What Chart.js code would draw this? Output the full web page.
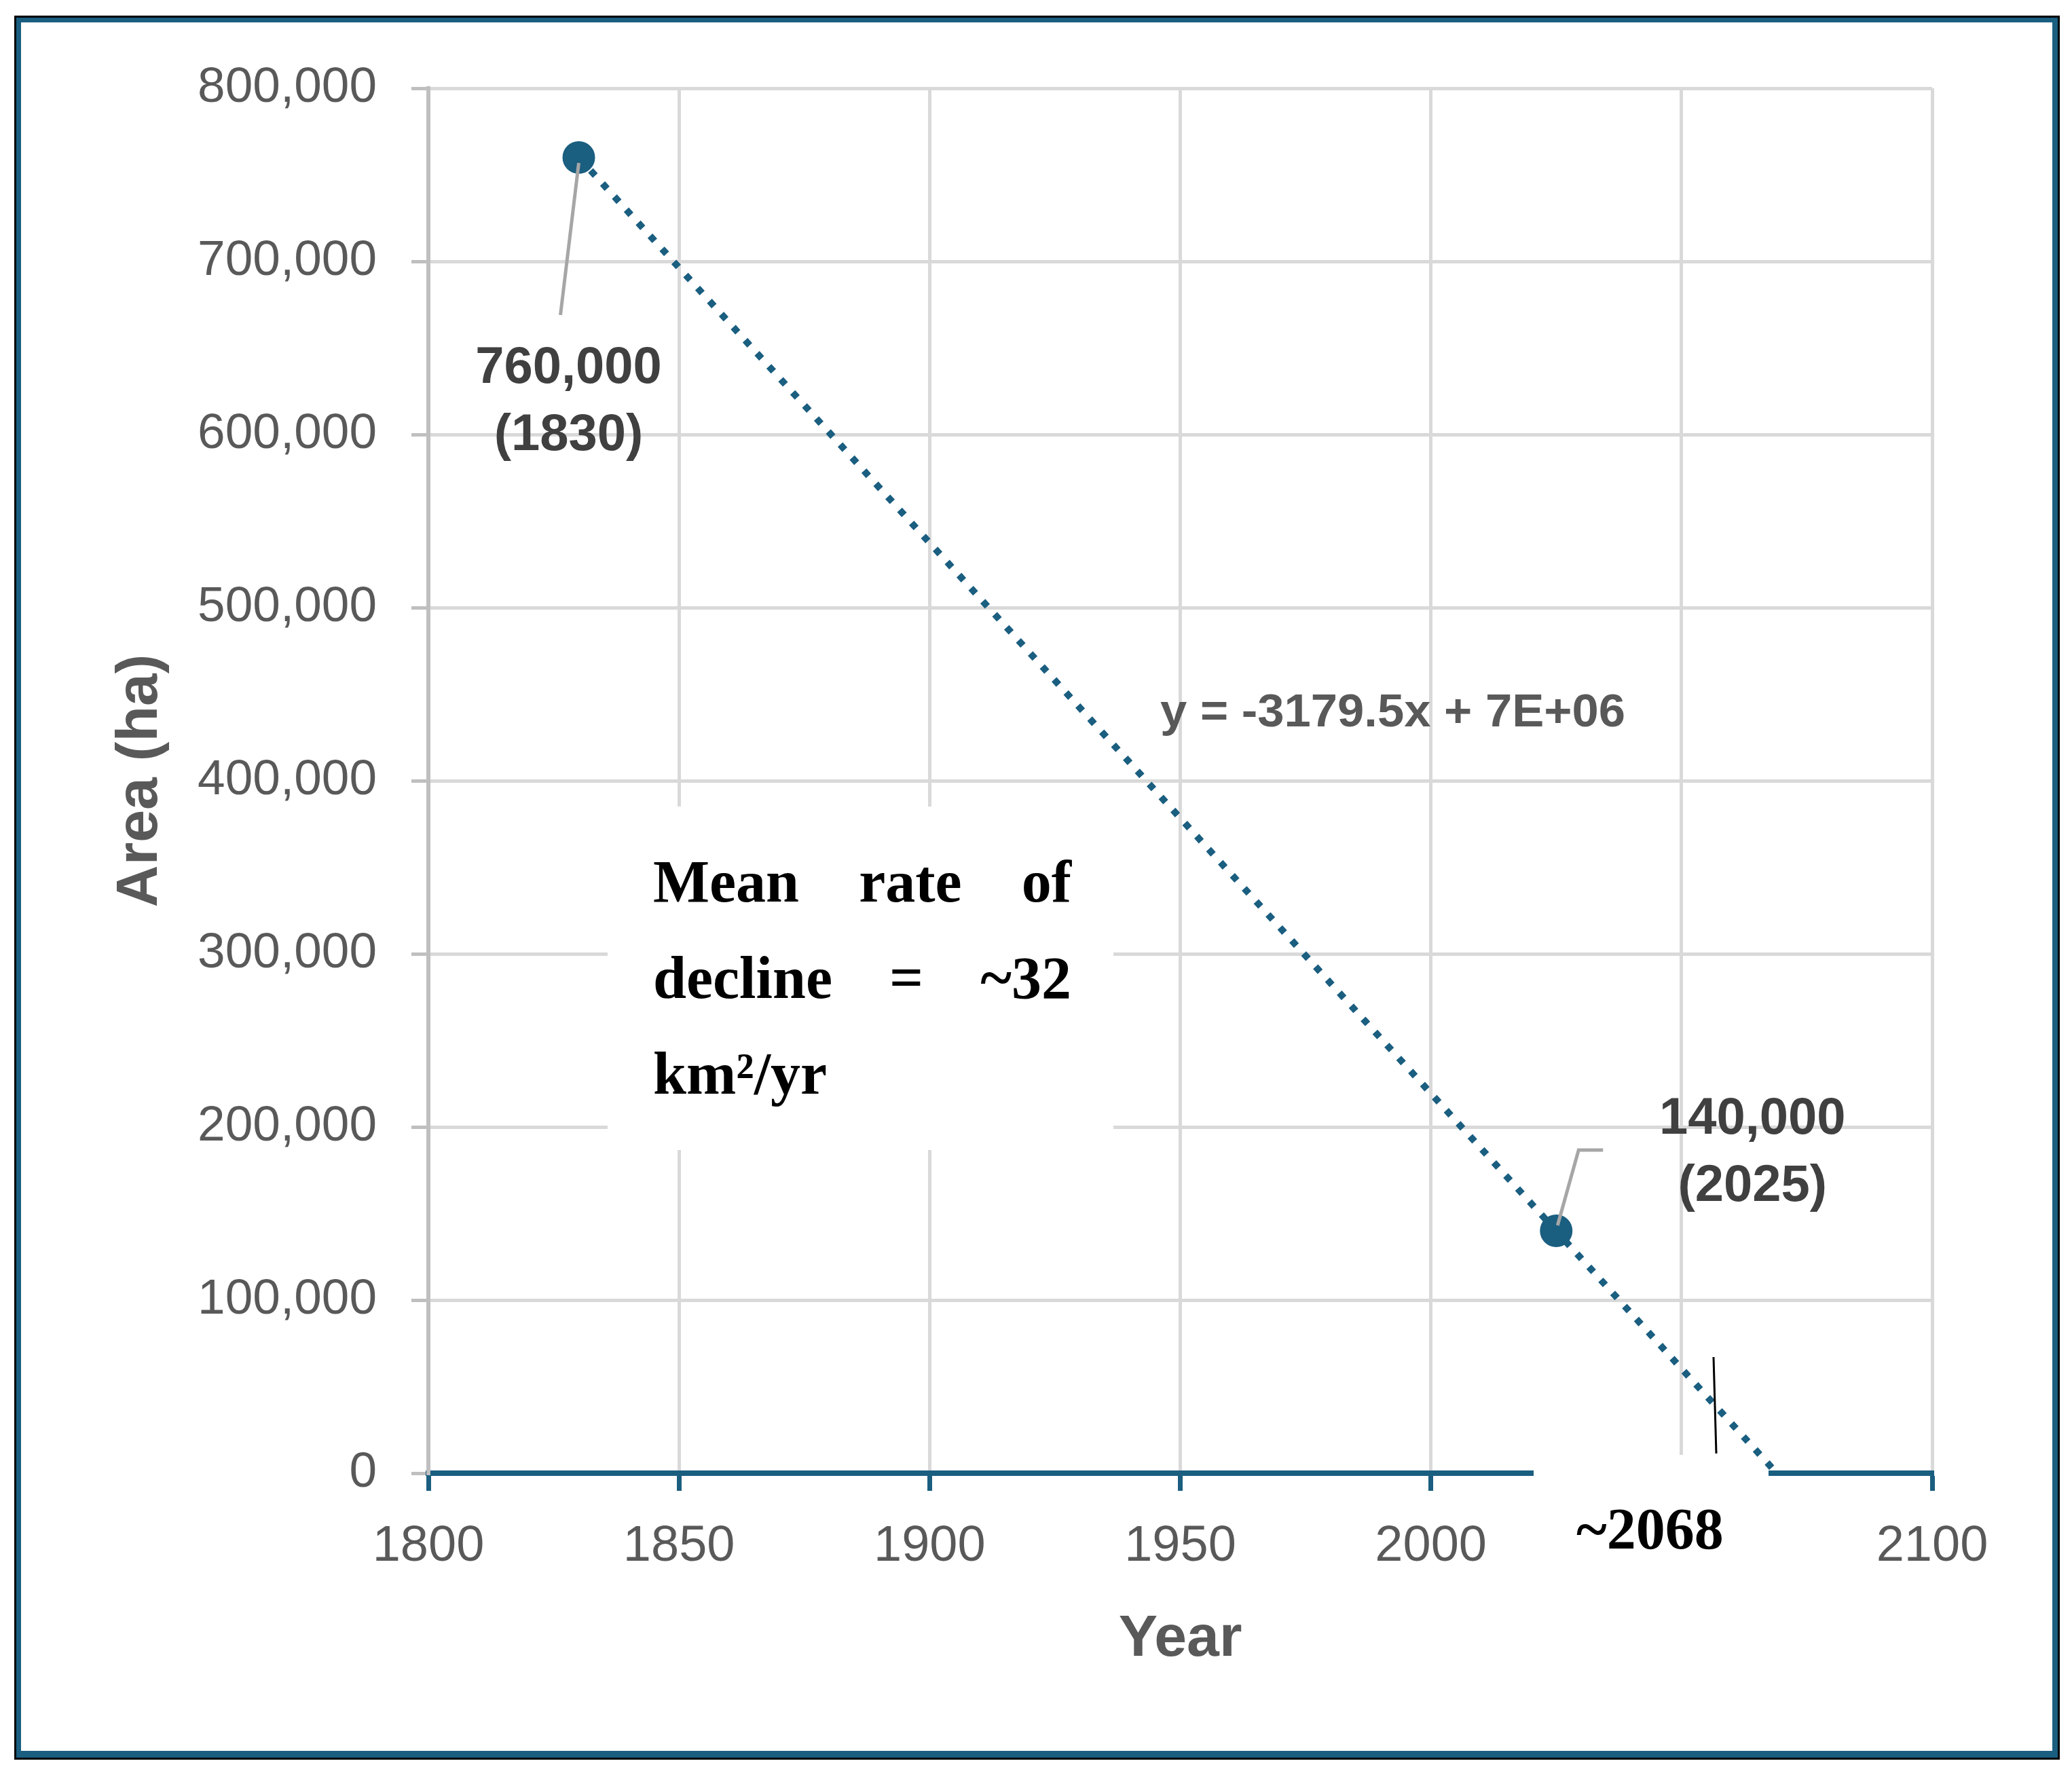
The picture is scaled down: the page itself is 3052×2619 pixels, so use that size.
<!DOCTYPE html>
<html>
<head>
<meta charset="utf-8">
<script src="https://cdn.jsdelivr.net/npm/chart.js@4.4.1/dist/chart.umd.min.js"></script>
<style>
  html, body { margin: 0; padding: 0; background: #fff; }
  canvas { display: block; }
</style>
</head>
<body>
<canvas id="chart" width="3052" height="2619"></canvas>
<script>
// observed areas
const years = [1830, 2025]
const areaHa = [760000, 140000]
const pointLabels = [['760,000', '(1830)'], ['140,000', '(2025)']]

// linear trendline as drawn in the figure, forecast to the zero crossing
const trendYears = [1830, 2069]
const trendArea = [760000, 0]

const xTicks = [1800, 1850, 1900, 1950, 2000, 2050, 2100]
const yTicks = [0, 100000, 200000, 300000, 400000, 500000, 600000, 700000, 800000]

const equationText = 'y = -3179.5x + 7E+06'
const noteLines = [['Mean', 'rate', 'of'], ['decline', '=', '~32'], ['km²/yr']]
const zeroYearText = '~2068'

const BLUE = '#1a5e80'
const GRID = '#d9d9d9'
const AXIS_GRAY = '#bfbfbf'
const TEXT_GRAY = '#595959'
const LABEL_DARK = '#404040'
const SANS = '"Liberation Sans", Arial, sans-serif'
const SERIF = '"Liberation Serif", "Times New Roman", serif'

// draws text squeezed to a given width, like the narrow font of the original
const fitText = (ctx, text, x, y, width) => {
  const w = ctx.measureText(text).width
  ctx.save()
  ctx.translate(x, y)
  ctx.scale(width / w, 1)
  ctx.fillText(text, 0, 0)
  ctx.restore()
}

const overlay = {
  id: 'overlay',
  beforeDraw(chart) {
    const { ctx } = chart
    ctx.save()
    ctx.fillStyle = '#fff'
    ctx.fillRect(0, 0, chart.width, chart.height)
    // frame: thin black edge, blue band
    ctx.fillStyle = '#000'
    ctx.fillRect(21, 23, 3013, 2569)
    ctx.fillStyle = BLUE
    ctx.fillRect(24, 26, 3007, 2563)
    ctx.fillStyle = '#fff'
    ctx.fillRect(31, 33, 2992, 2546)
    ctx.restore()
  },
  beforeDatasetsDraw(chart) {
    const { ctx } = chart
    ctx.save()
    ctx.fillStyle = '#fff'
    // text boxes that hide the grid behind them
    ctx.fillRect(895, 1188, 745, 506)
    ctx.fillRect(2259, 2143, 346, 200)
    ctx.restore()
  },
  afterDatasetsDraw(chart) {
    const { ctx } = chart
    const pts = chart.getDatasetMeta(0).data
    ctx.save()

    // leader lines
    ctx.strokeStyle = '#a6a6a6'
    ctx.lineWidth = 5
    ctx.beginPath()
    ctx.moveTo(pts[0].x, pts[0].y + 8)
    ctx.lineTo(pts[0].x - 27, pts[0].y + 232)
    ctx.stroke()
    ctx.beginPath()
    ctx.moveTo(pts[1].x + 2, pts[1].y - 8)
    ctx.lineTo(pts[1].x + 33, pts[1].y - 119)
    ctx.lineTo(pts[1].x + 69, pts[1].y - 119)
    ctx.stroke()

    // data labels
    ctx.fillStyle = LABEL_DARK
    ctx.font = `bold 76px ${SANS}`
    ctx.textAlign = 'center'
    ctx.textBaseline = 'middle'
    const offsets = [[-15, 311], [289, -164]]
    pts.forEach((p, i) => {
      const [dx, dy] = offsets[i]
      ctx.fillText(pointLabels[i][0], p.x + dx, p.y + dy)
      ctx.fillText(pointLabels[i][1], p.x + dx, p.y + dy + 99)
    })

    // trendline equation
    ctx.fillStyle = TEXT_GRAY
    ctx.font = `bold 68px ${SANS}`
    ctx.textAlign = 'left'
    ctx.textBaseline = 'alphabetic'
    fitText(ctx, equationText, 1709, 1070, 685)

    // justified note
    ctx.fillStyle = '#000'
    ctx.font = `bold 88px ${SERIF}`
    const left = 962
    const right = 1578
    const baselines = [1328, 1470, 1611]
    noteLines.forEach((words, i) => {
      if (words.length === 1) {
        ctx.fillText(words[0], left, baselines[i])
        return
      }
      const widths = words.map(w => ctx.measureText(w).width)
      const gap = (right - left - widths.reduce((a, b) => a + b, 0)) / (words.length - 1)
      let x = left
      words.forEach((w, j) => {
        ctx.fillText(w, x, baselines[i])
        x += widths[j] + gap
      })
    })

    // zero-crossing year and marker
    ctx.font = `bold 86px ${SERIF}`
    ctx.fillText(zeroYearText, 2322, 2281)
    ctx.strokeStyle = '#000'
    ctx.lineWidth = 3
    ctx.beginPath()
    ctx.moveTo(2524, 1999)
    ctx.lineTo(2528, 2141)
    ctx.stroke()

    ctx.restore()
  }
}

new Chart(document.getElementById('chart'), {
  type: 'scatter',
  data: {
    datasets: [
      {
        data: years.map((y, i) => ({ x: y, y: areaHa[i] })),
        backgroundColor: BLUE,
        borderWidth: 0,
        pointRadius: 24,
        pointHoverRadius: 24
      },
      {
        data: trendYears.map((y, i) => ({ x: y, y: trendArea[i] })),
        showLine: true,
        borderColor: BLUE,
        borderWidth: 10,
        borderDash: [10, 16],
        borderCapStyle: 'butt',
        pointRadius: 0,
        clip: false
      }
    ]
  },
  options: {
    responsive: false,
    devicePixelRatio: 1,
    animation: false,
    layout: {
      padding: { top: 130, right: 206, bottom: 0, left: 0 }
    },
    plugins: {
      legend: { display: false },
      tooltip: { enabled: false }
    },
    scales: {
      x: {
        type: 'linear',
        min: 1800,
        max: 2100,
        afterBuildTicks: axis => { axis.ticks = xTicks.map(v => ({ value: v })) },
        afterFit: axis => { axis.height = 449 },
        grid: {
          color: GRID,
          lineWidth: 5,
          tickColor: BLUE,
          tickWidth: 7,
          tickLength: 26
        },
        border: { color: BLUE, width: 8 },
        ticks: {
          color: TEXT_GRAY,
          font: { family: SANS, size: 74 },
          padding: 38,
          maxRotation: 0,
          callback: v => String(v)
        },
        title: {
          display: true,
          text: 'Year',
          color: TEXT_GRAY,
          font: { family: SANS, size: 86, weight: 'bold' },
          padding: { top: 0, bottom: 152 }
        }
      },
      y: {
        min: 0,
        max: 800000,
        afterBuildTicks: axis => { axis.ticks = yTicks.map(v => ({ value: v })) },
        afterFit: axis => { axis.width = 631 },
        grid: {
          color: GRID,
          lineWidth: 5,
          tickColor: AXIS_GRAY,
          tickWidth: 5,
          tickLength: 25
        },
        border: { color: AXIS_GRAY, width: 6 },
        ticks: {
          color: TEXT_GRAY,
          font: { family: SANS, size: 73 },
          padding: 51,
          callback: v => v.toLocaleString('en-US')
        },
        title: {
          display: true,
          text: 'Area (ha)',
          color: TEXT_GRAY,
          font: { family: SANS, size: 86, weight: 'bold' },
          padding: { top: 156, bottom: 0 }
        }
      }
    }
  },
  plugins: [overlay]
})
</script>
</body>
</html>
